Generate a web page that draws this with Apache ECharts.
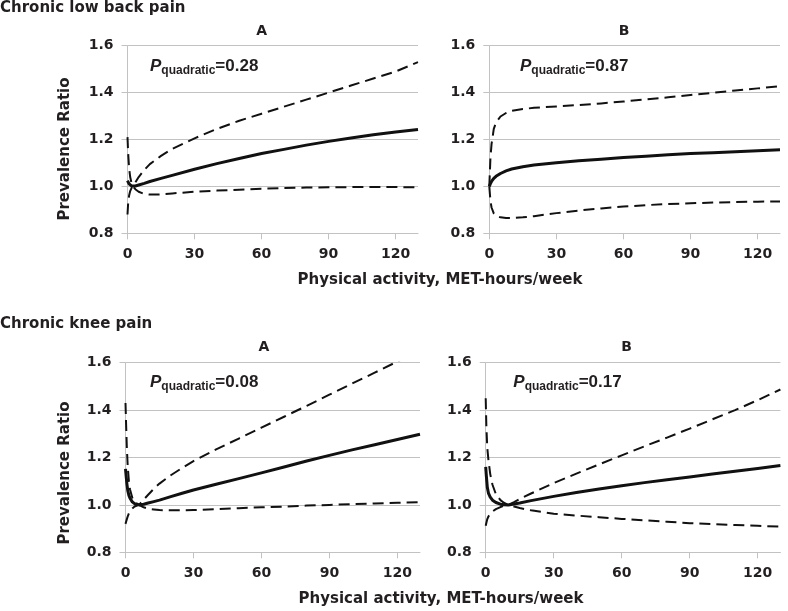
<!DOCTYPE html>
<html><head><meta charset="utf-8">
<script src="https://cdn.jsdelivr.net/npm/echarts@6/dist/echarts.min.js"></script>
<style>html,body{margin:0;padding:0;background:#fff}#c{width:788px;height:611px}</style>
</head><body><div id="c"></div>
<script>
// ---- tick labels / text ----
const xTicks = [0, 30, 60, 90, 120];
const sectionTitles = ['Chronic low back pain', 'Chronic knee pain'];
const panelLetters = ['A', 'B', 'A', 'B'];
const pValues = ['0.28', '0.87', '0.08', '0.17'];
const yAxisTitle = 'Prevalence Ratio';
const xAxisTitle = 'Physical activity, MET-hours/week';

// ---- Chronic low back pain, A ----
const lbpA_x   = [0, 0.3, 0.7, 1.2, 1.8, 2.5, 3.5, 5, 7.5, 10, 15, 20, 30, 40, 50, 60, 70, 80, 90, 100, 110, 120, 130];
const lbpA_est = [1.025, 1.018, 1.011, 1.005, 1.002, 1.0, 1.002, 1.006, 1.013, 1.021, 1.034, 1.047, 1.073, 1.097, 1.119, 1.14, 1.158, 1.176, 1.192, 1.206, 1.22, 1.232, 1.243];
const lbpA_ci1 = [1.21, 1.14, 1.08, 1.04, 1.015, 1.0, 0.988, 0.977, 0.968, 0.965, 0.966, 0.97, 0.977, 0.982, 0.986, 0.99, 0.993, 0.995, 0.996, 0.997, 0.997, 0.997, 0.996];
const lbpA_ci2 = [0.88, 0.93, 0.96, 0.98, 0.993, 1.0, 1.017, 1.04, 1.07, 1.095, 1.13, 1.16, 1.205, 1.245, 1.28, 1.31, 1.34, 1.37, 1.4, 1.43, 1.46, 1.49, 1.53];

// ---- Chronic low back pain, B ----
const lbpB_x   = [0, 0.5, 1, 2, 3, 5, 7.5, 10, 15, 20, 30, 40, 50, 60, 70, 80, 90, 100, 110, 120, 130];
const lbpB_est = [1.0, 1.012, 1.021, 1.034, 1.043, 1.055, 1.066, 1.074, 1.084, 1.091, 1.101, 1.109, 1.116, 1.123, 1.129, 1.135, 1.14, 1.144, 1.148, 1.152, 1.156];
const lbpB_ci1 = [1.0, 1.12, 1.18, 1.245, 1.272, 1.298, 1.313, 1.322, 1.33, 1.335, 1.341, 1.347, 1.354, 1.362, 1.371, 1.38, 1.39, 1.399, 1.409, 1.418, 1.427];
const lbpB_ci2 = [1.0, 0.94, 0.91, 0.885, 0.875, 0.868, 0.865, 0.865, 0.868, 0.873, 0.886, 0.897, 0.906, 0.914, 0.92, 0.925, 0.928, 0.931, 0.933, 0.935, 0.936];

// ---- Chronic knee pain, A ----
const kneeA_x   = [0, 0.3, 0.6, 1, 1.5, 2, 3, 4, 6, 8, 10, 12.5, 15, 20, 25, 30, 40, 50, 60, 70, 80, 90, 100, 110, 120, 130];
const kneeA_est = [1.152, 1.12, 1.09, 1.06, 1.04, 1.028, 1.013, 1.005, 1.0, 1.003, 1.008, 1.014, 1.02, 1.035, 1.049, 1.063, 1.087, 1.111, 1.135, 1.16, 1.185, 1.209, 1.232, 1.254, 1.276, 1.298];
const kneeA_ci1 = [1.43, 1.33, 1.24, 1.16, 1.1, 1.065, 1.03, 1.012, 1.0, 0.99, 0.984, 0.981, 0.978, 0.977, 0.977, 0.978, 0.982, 0.986, 0.99, 0.993, 0.997, 1.0, 1.003, 1.006, 1.009, 1.011];
const kneeA_ci2 = [0.92, 0.93, 0.94, 0.952, 0.964, 0.973, 0.985, 0.993, 1.0, 1.022, 1.043, 1.068, 1.09, 1.125, 1.156, 1.185, 1.234, 1.28, 1.326, 1.372, 1.418, 1.465, 1.512, 1.558, 1.605, 1.652];

// ---- Chronic knee pain, B ----
const kneeB_x   = [0, 0.3, 0.7, 1.2, 2, 3, 4.5, 6.5, 8, 10, 12.5, 15, 20, 30, 40, 50, 60, 70, 80, 90, 100, 110, 120, 130];
const kneeB_est = [1.16, 1.12, 1.075, 1.05, 1.033, 1.02, 1.01, 1.003, 1.001, 1.0, 1.004, 1.008, 1.018, 1.036, 1.052, 1.067, 1.081, 1.094, 1.106, 1.118, 1.13, 1.142, 1.154, 1.166];
const kneeB_ci1 = [1.45, 1.33, 1.24, 1.19, 1.13, 1.085, 1.045, 1.02, 1.009, 1.0, 0.993, 0.987, 0.977, 0.963, 0.955, 0.948, 0.941, 0.935, 0.929, 0.923, 0.919, 0.915, 0.912, 0.908];
const kneeB_ci2 = [0.912, 0.925, 0.94, 0.951, 0.962, 0.972, 0.982, 0.991, 0.996, 1.0, 1.012, 1.025, 1.048, 1.092, 1.132, 1.171, 1.209, 1.247, 1.284, 1.322, 1.361, 1.4, 1.442, 1.487];

const panels = [
  {x: lbpA_x, est: lbpA_est, ci1: lbpA_ci1, ci2: lbpA_ci2},
  {x: lbpB_x, est: lbpB_est, ci1: lbpB_ci1, ci2: lbpB_ci2},
  {x: kneeA_x, est: kneeA_est, ci1: kneeA_ci1, ci2: kneeA_ci2},
  {x: kneeB_x, est: kneeB_est, ci1: kneeB_ci1, ci2: kneeB_ci2}
];

const FONT = 'DejaVu Sans';
const TXT = '#231f20';
const GRAY = '#c2c2c2';

const gridLayout = [
  {left: 127.5, top: 45.7, width: 290.5, height: 187.6},
  {left: 489.3, top: 45.7, width: 290.7, height: 187.6},
  {left: 125.5, top: 362.7, width: 294.5, height: 189.6},
  {left: 485.7, top: 362.7, width: 294.7, height: 189.6}
];

const zip = (xs, ys) => xs.map((v, i) => [v, ys[i]]);

const xAxes = gridLayout.map((g, i) => ({
  type: 'value', gridIndex: i, min: 0, max: 130, interval: 30,
  axisLine: {show: true, lineStyle: {color: GRAY, width: 1}},
  axisTick: {show: true, length: 6, customValues: xTicks, lineStyle: {color: GRAY, width: 1}},
  axisLabel: {customValues: xTicks, margin: 14, fontFamily: FONT, fontWeight: 'bold', fontSize: 14, color: TXT},
  splitLine: {show: false}
}));
const yAxes = gridLayout.map((g, i) => ({
  type: 'value', gridIndex: i, min: 0.8, max: 1.6, interval: 0.2,
  axisLine: {show: true, lineStyle: {color: GRAY, width: 1}},
  axisTick: {show: true, length: 6, lineStyle: {color: GRAY, width: 1}},
  axisLabel: {margin: 14, fontFamily: FONT, fontWeight: 'bold', fontSize: 14, color: TXT,
    formatter: v => v.toFixed(1)},
  splitLine: {show: true, lineStyle: {color: GRAY, width: 1}}
}));

const series = [];
panels.forEach((p, i) => {
  const base = {type: 'line', xAxisIndex: i, yAxisIndex: i, showSymbol: false, symbol: 'none',
    smooth: false, animation: false, silent: true};
  series.push(Object.assign({}, base, {name: 'ci1', data: zip(p.x, p.ci1),
    lineStyle: {color: '#111', width: 2, type: [11, 6], join: 'round'}}));
  series.push(Object.assign({}, base, {name: 'ci2', data: zip(p.x, p.ci2),
    lineStyle: {color: '#111', width: 2, type: [11, 6], join: 'round'}}));
  series.push(Object.assign({}, base, {name: 'estimate', data: zip(p.x, p.est), z: 3,
    lineStyle: {color: '#111', width: 3, join: 'round'}}));
});

const graphics = [];
const txt = (text, x, y, extra) => Object.assign({type: 'text', x: x, y: y, silent: true,
  style: Object.assign({text: text, fontFamily: FONT, fontWeight: 'bold', fontSize: 15, fill: TXT,
    align: 'center', verticalAlign: 'middle'}, (extra && extra.style) || {})},
  extra ? {rotation: extra.rotation || 0} : {});

graphics.push(txt(sectionTitles[0], 0, 8.5, {style: {align: 'left'}}));
graphics.push(txt(sectionTitles[1], 0, 324.5, {style: {align: 'left'}}));
const letterPos = [[261.7, 31], [624, 31], [264, 347], [626.7, 347]];
letterPos.forEach((pp, i) => graphics.push(txt(panelLetters[i], pp[0], pp[1], {style: {fontSize: 14}})));
graphics.push(txt(yAxisTitle, 65, 149, {rotation: Math.PI / 2}));
graphics.push(txt(yAxisTitle, 65, 473, {rotation: Math.PI / 2}));
graphics.push(txt(xAxisTitle, 440, 280));
graphics.push(txt(xAxisTitle, 441, 599));

const pPos = [[150, 66], [520, 66], [150, 382], [513.3, 382]];
pPos.forEach((pp, i) => {
  graphics.push({type: 'text', x: pp[0], y: pp[1], silent: true,
    style: {
      text: '{p|P}{s|quadratic}{n|=' + pValues[i] + '}',
      align: 'left', verticalAlign: 'middle',
      rich: {
        p: {fontFamily: 'Liberation Sans', fontWeight: 'bold', fontStyle: 'italic', fontSize: 17, lineHeight: 22, fill: TXT},
        s: {fontFamily: 'Liberation Sans', fontWeight: 'bold', fontSize: 12, lineHeight: 12, verticalAlign: 'bottom', fill: TXT},
        n: {fontFamily: 'Liberation Sans', fontWeight: 'bold', fontSize: 17, lineHeight: 22, fill: TXT}
      }
    }});
});

const chart = echarts.init(document.getElementById('c'), null, {renderer: 'canvas'});
chart.setOption({
  animation: false,
  backgroundColor: '#fff',
  grid: gridLayout.map(g => Object.assign({containLabel: false}, g)),
  xAxis: xAxes,
  yAxis: yAxes,
  series: series,
  graphic: graphics
});
</script></body></html>
